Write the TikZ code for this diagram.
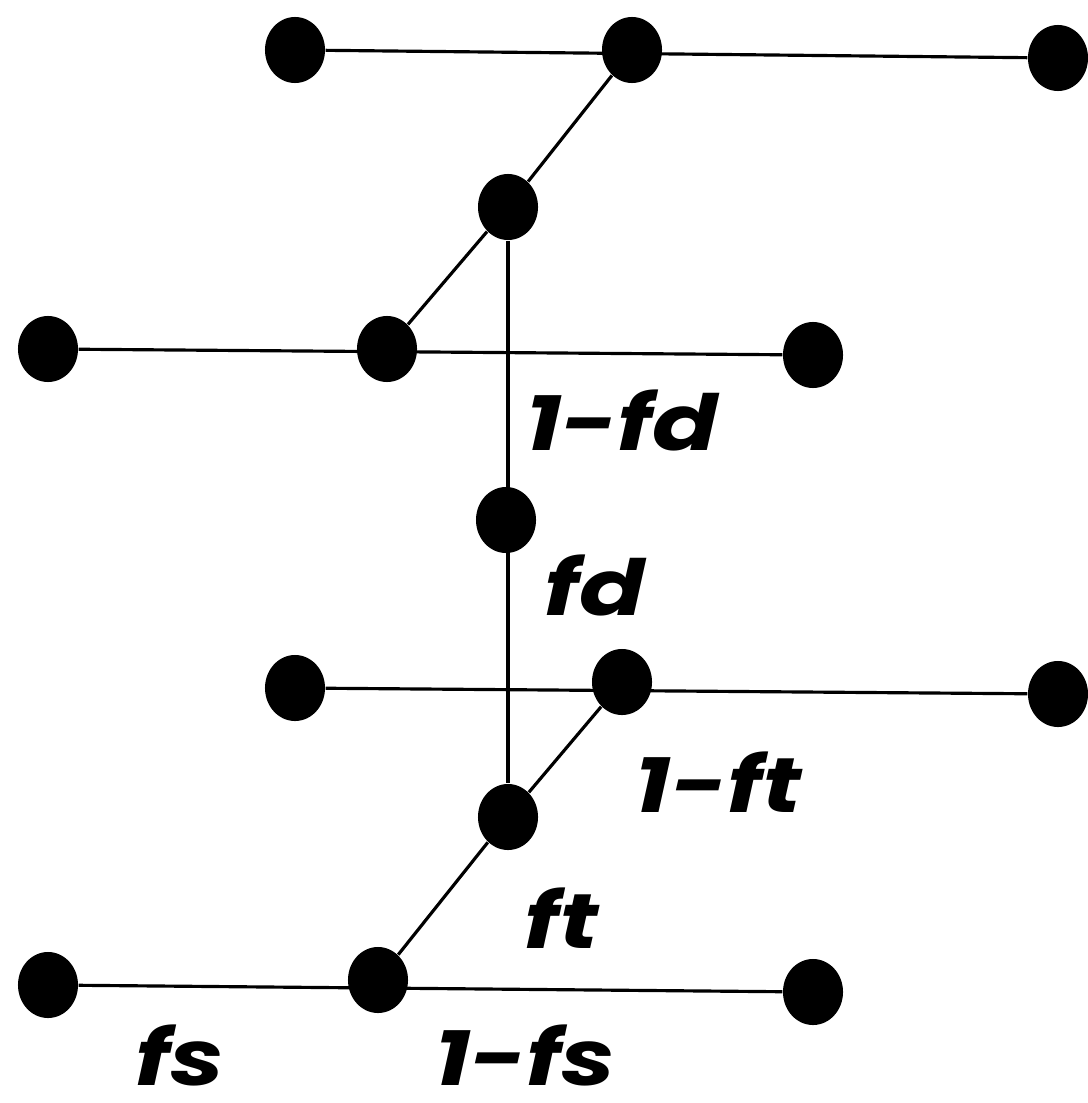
\documentclass[tikz,border=0pt]{standalone}
\usepackage{fontspec}
\newfontfamily\labfont{Poppins}[FakeStretch=1.25]
\usetikzlibrary{shapes.geometric}
\tikzset{
  dot/.style={ellipse,fill=black,inner sep=0pt,minimum width=0.6cm,minimum height=0.66cm},
  lab/.style={font=\labfont\bfseries\itshape\fontsize{22}{22}\selectfont,inner sep=0pt},
  edge/.style={line width=0.9pt}
}
\begin{document}
\begin{tikzpicture}[x=0.01cm,y=-0.01cm]
  \useasboundingbox (0,0) rectangle (1087,1103);
  % nodes
  \node[dot] (a1) at (295,50) {};
  \node[dot] (a2) at (632,50) {};
  \node[dot] (a3) at (1058,58) {};
  \node[dot] (b) at (508,207) {};
  \node[dot] (c1) at (48,349) {};
  \node[dot] (c2) at (387,349) {};
  \node[dot] (c3) at (813,355) {};
  \node[dot] (d) at (506,520) {};
  \node[dot] (e1) at (295,688) {};
  \node[dot] (e2) at (622,682) {};
  \node[dot] (e3) at (1058,694) {};
  \node[dot] (g) at (508,817) {};
  \node[dot] (h1) at (48,985) {};
  \node[dot] (h2) at (378,980) {};
  \node[dot] (h3) at (813,992) {};
  % lines
  \draw[edge] (a1) -- (a3);
  \draw[edge] (a2) -- (b) -- (c2);
  \draw[edge] (c1) -- (c3);
  \draw[edge] (b) -- (g);
  \draw[edge] (e1) -- (e3);
  \draw[edge] (e2) -- (g) -- (h2);
  \draw[edge] (h1) -- (h3);
  % labels
  \node[lab] (l1) at (622,420) {1-fd};
  \node[lab] (l2) at (595,585) {fd};
  \node[lab] (l3) at (718,782) {1-ft};
  \node[lab] (l4) at (562,918) {ft};
  \node[lab] (l5) at (180,1055) {fs};
  \node[lab] (l6) at (525,1055) {1-fs};
\end{tikzpicture}
\end{document}
